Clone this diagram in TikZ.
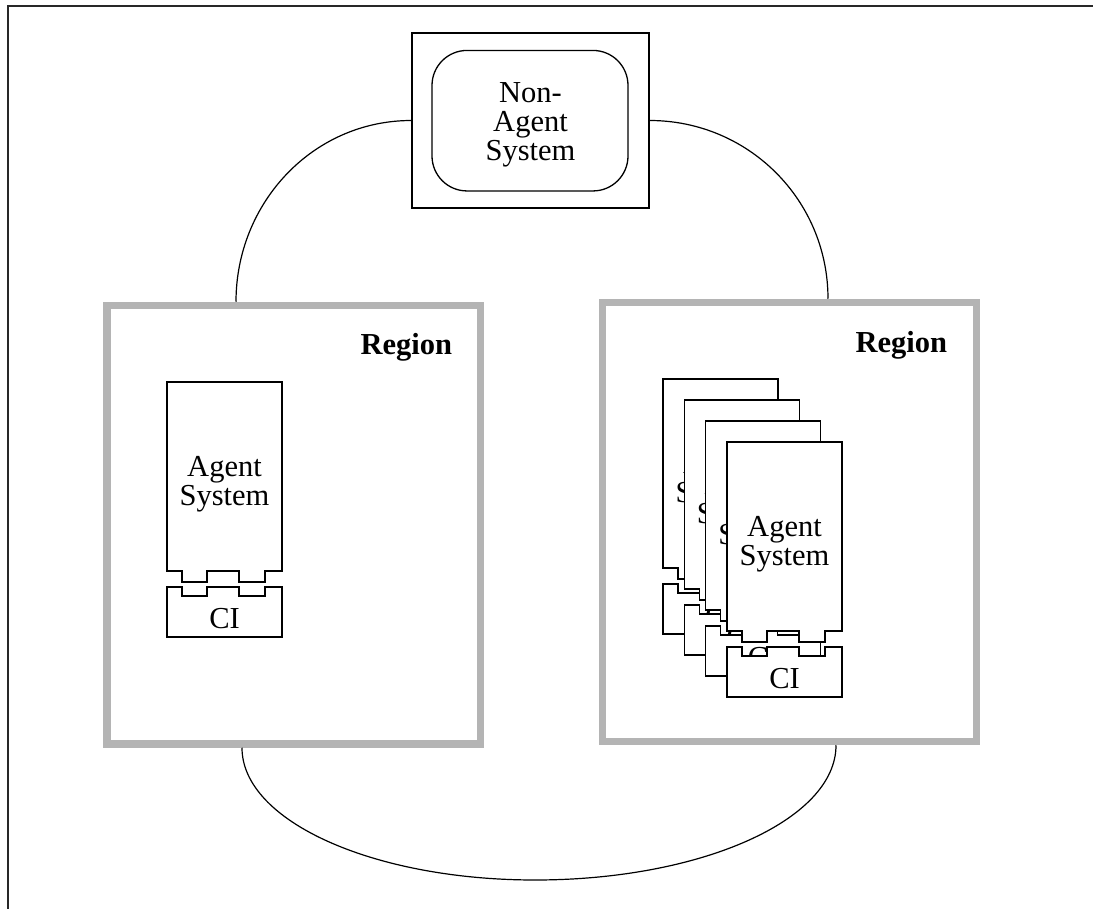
\documentclass[tikz,border=0pt]{standalone}
\usepackage{fontspec}
\setmainfont{Liberation Serif}
\definecolor{regiongray}{RGB}{180,180,180}
\definecolor{framegray}{RGB}{40,40,40}
\tikzset{
  boxline/.style={draw=black, line width=1.3pt, fill=white, line join=miter},
  boxtext/.style={font=\fontsize{30.5}{29.3}\selectfont, align=center, inner sep=0pt},
  regionlabel/.style={font=\bfseries\fontsize{30.5}{29.3}\selectfont, inner sep=0pt, anchor=base east},
  region/.style={draw=regiongray, line width=7.5pt, inner sep=0pt},
  plainbox/.style={draw=black, line width=1.3pt, inner sep=0pt},
  link/.style={draw=black, line width=1.2pt},
  frameline/.style={draw=framegray, line width=1.6pt},
  % agent system with its communication infrastructure plugged in below
  pics/agentsys/.style={code={
    \draw[boxline] (0,0) -- (115,0) -- (115,189) -- (98,189) -- (98,200)
      -- (72,200) -- (72,189) -- (40,189) -- (40,200) -- (15,200)
      -- (15,189) -- (0,189) -- cycle;
    \node[boxtext] (-as) at (57.5,102.3) {Agent\\System};
    \draw[boxline] (0,205) -- (15,205) -- (15,214) -- (40,214) -- (40,205)
      -- (72,205) -- (72,214) -- (98,214) -- (98,205) -- (115,205)
      -- (115,255) -- (0,255) -- cycle;
    \node[boxtext] (-ci) at (57.5,237) {CI};
  }}
}
\begin{document}
\begin{tikzpicture}[x=1pt,y=-1pt]
\useasboundingbox (0,0) rectangle (1093,909);

% outer frame
\draw[frameline] (8,920) -- (8,6) -- (1100,6);

% regions
\node[region, minimum width=373.5, minimum height=438.5] (lreg) at (293.75,524.75) {};
\node[region, minimum width=374, minimum height=439] (rreg) at (789.5,522) {};
\node[regionlabel] (lrl) at ([xshift=-32pt,yshift=-52.5pt]lreg.north east) {Region};
\node[regionlabel] (rrl) at ([xshift=-33pt,yshift=-53.5pt]rreg.north east) {Region};

% non-agent system
\node[plainbox, minimum width=237, minimum height=175] (nab) at (530.5,120.5) {};
\node[plainbox, rounded corners=35pt, minimum width=196, minimum height=140.5] (nas) at (530,120.7) {};
\node[boxtext] (nat) at (530.5,125) {Non-\\Agent\\System};

% agent systems
\pic (la) at (167,382) {agentsys};
\pic (ra1) at (663,379) {agentsys};
\pic (ra2) at (684.3,400) {agentsys};
\pic (ra3) at (705.7,421) {agentsys};
\pic (ra4) at (727,442) {agentsys};

% connections
\coordinate (lt) at (lreg.north -| 236,0);
\coordinate (rt) at (rreg.north -| 828,0);
\coordinate (lb) at (lreg.south -| 242,0);
\coordinate (rb) at (rreg.south -| 836,0);
\coordinate (low) at (535,880);
\coordinate (lbc1) at (242,821);
\coordinate (lbc2) at (373,880);
\coordinate (rbc1) at (701,880);
\coordinate (rbc2) at (836,820);

\draw[link] (lt) to[out=90,in=180] (nab.west);
\draw[link] (rt) to[out=90,in=0] (nab.east);
\draw[link] (lb) .. controls (lbc1) and (lbc2) .. (low)
               .. controls (rbc1) and (rbc2) .. (rb);
\end{tikzpicture}
\end{document}
